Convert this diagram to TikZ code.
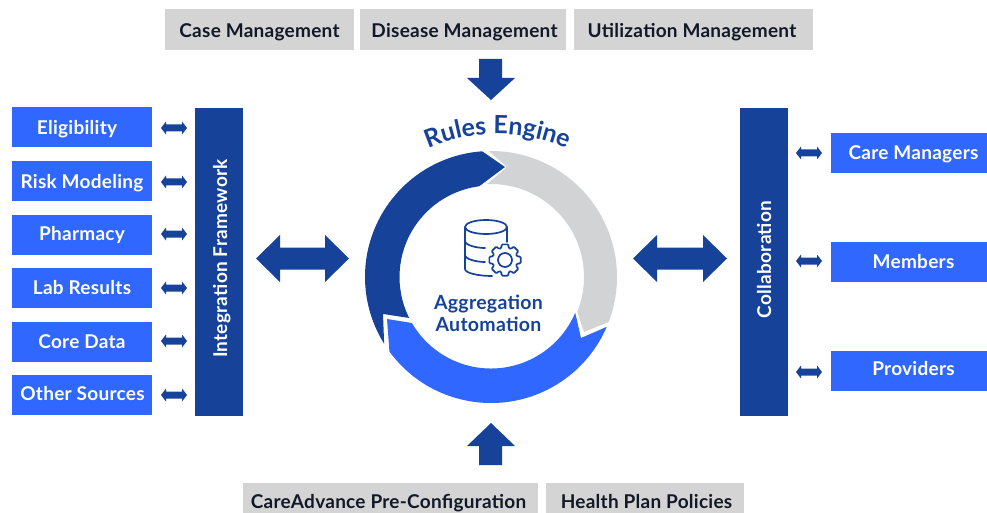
\documentclass[tikz,border=0pt]{standalone}
\usepackage{fontspec}
\setmainfont{Lato}[LetterSpace=1.4]
\usetikzlibrary{decorations.text}
\definecolor{navy}{HTML}{164399}
\definecolor{brightblue}{HTML}{2F67FF}
\definecolor{ringgrey}{HTML}{D1D3D4}
\definecolor{boxgrey}{HTML}{D4D4D4}
\definecolor{inkdark}{HTML}{111827}
\tikzset{
  x=1pt,y=-1pt,
  boxbase/.style={rectangle,inner sep=0pt,outer sep=0pt,font=\fontsize{19}{21}\selectfont\bfseries,
    text height={(10+#1)*1pt},text depth={(10-#1)*1pt}},
  bluebox/.style={boxbase=#1,fill=brightblue,text=white,minimum width=140pt,minimum height=40pt},
  sidebox/.style={boxbase=#1,fill=brightblue,text=white,minimum width=156pt,minimum height=40pt},
  greybox/.style={boxbase=#1,fill=boxgrey,text=inkdark},
  barbox/.style={boxbase=#1,fill=navy,text=white,rotate=90,minimum width=308pt,minimum height=48pt},
  blockarrow/.style={fill=navy,draw=none},
  iconline/.style={draw=navy,line width=1.7pt,line cap=round,line join=round},
  ringpart/.style={draw=none}
}
% horizontal double arrow: centre x, centre y, half length, head length, half head height, half shaft height
\newcommand{\hdbl}[6]{\fill[blockarrow] (#1-#3,#2) -- (#1-#3+#4,#2-#5) -- (#1-#3+#4,#2-#6) -- (#1+#3-#4,#2-#6) -- (#1+#3-#4,#2-#5) -- (#1+#3,#2) -- (#1+#3-#4,#2+#5) -- (#1+#3-#4,#2+#6) -- (#1-#3+#4,#2+#6) -- (#1-#3+#4,#2+#5) -- cycle;}
\begin{document}
\begin{tikzpicture}
\useasboundingbox (0,0) rectangle (987,513);
% top grey
\node[greybox=8,minimum width=189pt,minimum height=41pt] (case) at (259.5,29.5) {Case Management};
\node[greybox=8,minimum width=206pt,minimum height=41pt] (disease) at (463,29.5) {\hspace*{3pt}Disease Management};
\node[greybox=8,minimum width=239pt,minimum height=41pt] (util) at (693.5,29.5) {\hspace*{-3pt}Utilization Management};
% bottom grey
\node[greybox=10,minimum width=295pt,minimum height=30pt] (care) at (390.5,498) {\hspace*{-4pt}CareAdvance Pre-Configuration};
\node[greybox=10,minimum width=198pt,minimum height=30pt] (policy) at (645,498) {\hspace*{3pt}Health Plan Policies};
% left boxes
\node[bluebox=8] (elig) at (82,127) {\hspace*{-10pt}Eligibility};
\node[bluebox=8] (risk) at (82,181) {Risk Modeling};
\node[bluebox=5] (phar) at (82,235) {Pharmacy};
\node[bluebox=6] (lab) at (82,288) {Lab Results};
\node[bluebox=6] (core) at (82,342) {Core Data};
\node[bluebox=5] (other) at (82,395) {\hspace*{1pt}Other Sources};
% bars
\node[barbox=8] (integ) at (219,262) {\hspace*{7pt}Integration Framework};
\node[barbox=7] (collab) at (764,262) {\hspace*{5pt}Collaboration};
% right boxes
\node[sidebox=7] (mgr) at (909,153) {\hspace*{9pt}Care Managers};
\node[sidebox=6] (mem) at (909,262) {\hspace*{9pt}Members};
\node[sidebox=4] (prov) at (909,371) {\hspace*{9pt}Providers};
% small arrows
\foreach \yy in {128,182,234,288,341,395} {\hdbl{174}{\yy}{13}{5}{6.5}{3.5}}
\foreach \yy in {153,261,372} {\hdbl{809}{\yy}{13}{5}{6.5}{3.5}}
% big arrows
\hdbl{302.5}{258.5}{46.5}{24}{23.5}{11}
\hdbl{680}{258.5}{47}{24}{23.5}{11}
% down and up arrows
\fill[blockarrow] (479,59) -- (502,59) -- (502,78) -- (515,78) -- (491,100) -- (467,78) -- (479,78) -- cycle;
\fill[blockarrow] (479,465) -- (502,465) -- (502,446) -- (515,446) -- (491,423) -- (467,446) -- (479,446) -- cycle;
% ring
\begin{scope}[shift={(491,277)},x=1pt,y=1pt]
  \fill[ringgrey,ringpart] (91:126) arc[start angle=91,end angle=-20.9,radius=126] -- (93,-55) -- (-22:93) arc[start angle=-22,end angle=92.5,radius=93] -- (16,110) -- cycle;
  \fill[navy,ringpart] (94:126) arc[start angle=94,end angle=212,radius=126] -- (-108,-37) -- (206.6:91.5) arc[start angle=206.6,end angle=97.4,radius=91.5] -- (14,110) -- cycle;
  \fill[brightblue,ringpart] (216.3:126) arc[start angle=216.3,end angle=336.7,radius=126] -- (90,-61) -- (-23:91.5) arc[start angle=-23,end angle=-149.8,radius=91.5] -- (-104,-42) -- cycle;
  % curved title
  \path[postaction={decorate,decoration={text along path,text align=center,
      text={|\fontsize{25}{27}\selectfont\bfseries\color{navy}|Rules Engine}}}]
     (6.5,-31) ++(120:174) arc[start angle=120,end angle=60,radius=174];
\end{scope}
% database icon
\begin{scope}[shift={(486,227)},x=1pt,y=1pt]
  \draw[iconline] (0,0) ellipse[x radius=21,y radius=7];
  \draw[iconline] (21,0) -- (21,-15);
  \draw[iconline] (-21,0) -- (-21,-42) .. controls (-21,-46) and (-8,-49) .. (6,-49);
  \draw[iconline] (-21,-14) .. controls (-21,-18) and (-10,-21) .. (-1,-21);
  \draw[iconline] (-21,-28) .. controls (-21,-32) and (-10,-35) .. (-1,-35);
\end{scope}
% gear icon
\begin{scope}[shift={(505,260)},x=1pt,y=1pt]
  \draw[iconline,rounded corners=1pt] (-12:16)
    \foreach \a in {0,45,...,315} { -- ({\a-12}:16) -- ({\a+12}:16) -- ({\a+17}:12.5) -- ({\a+28}:12.5) } -- cycle;
  \draw[iconline] (0,0) circle[radius=7];
\end{scope}
% centre text
\node[font=\fontsize{19.5}{22}\selectfont\bfseries,text=navy,align=center,inner sep=0pt] (agg) at (488.5,313) {Aggregation\\Automation};
\end{tikzpicture}
\end{document}
